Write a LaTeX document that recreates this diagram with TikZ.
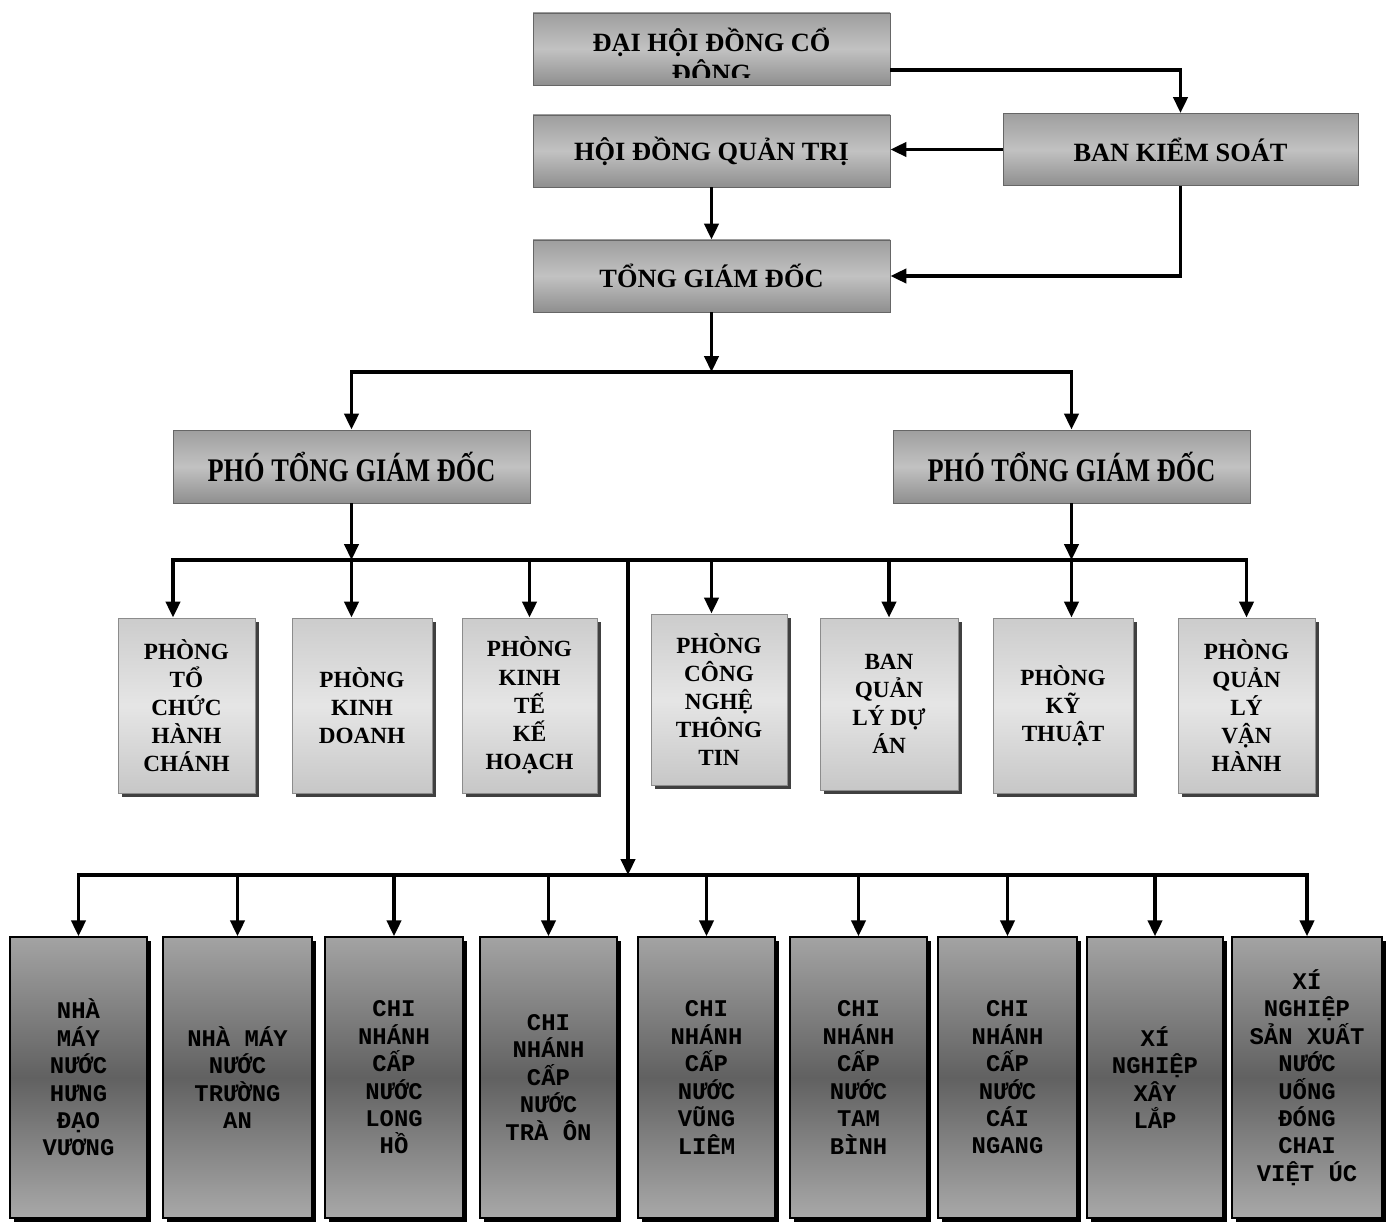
\documentclass[tikz,border=0pt]{standalone}
\usepackage{fontspec}
\setmainfont{Liberation Serif}
\setmonofont{Liberation Mono}
\usepackage{graphicx}
\usetikzlibrary{arrows.meta,shadows}

\begin{document}
\begin{tikzpicture}[line width=.07cm,>={Triangle[length=9pt,width=8pt]},->,
   topbox/.style={draw=black!60,line width=.5pt,top color=black!38,bottom color=black!44,middle color=black!24,
      minimum width=7.14cm,minimum height=1.44cm,font=\bfseries\fontsize{15}{17.6}\selectfont},
   midbox/.style={draw=black!45,line width=.5pt,top color=black!20,bottom color=black!22,middle color=black!10,
      minimum height=3.5cm,align=center,font=\bfseries\fontsize{13.2}{16}\selectfont,
      drop shadow={shadow xshift=.07cm,shadow yshift=-.07cm,fill=black!75,opacity=1}},
   lowbox/.style={draw=black,line width=.8pt,top color=black!36,bottom color=black!34,middle color=black!62,
      minimum height=5.62cm,align=center,font=\ttfamily\bfseries\fontsize{13.6}{15.6}\selectfont,
      drop shadow={shadow xshift=.07cm,shadow yshift=-.07cm,fill=black,opacity=1}}]
   \useasboundingbox (0,0) rectangle (27.78,-24.46);
   \node[topbox] (dhdcd) at (14.23,-0.98) {};
   \begin{scope}
      \clip ([yshift=-.05cm]dhdcd.north west) rectangle ([yshift=.16cm]dhdcd.south east);
      \node[font=\bfseries\fontsize{15}{17.6}\selectfont,align=center] (dhdcdtxt) at (14.23,-1.11) {ĐẠI HỘI ĐỒNG CỔ\\ĐÔNG};
   \end{scope}
   \node[topbox] (hdqt) at (14.23,-3.02) {HỘI ĐỒNG QUẢN TRỊ};
   \node[topbox,minimum width=7.1cm] (bks) at (23.61,-2.99) {BAN KIỂM SOÁT};
   \node[topbox] (tgd) at (14.23,-5.52) {TỔNG GIÁM ĐỐC};
   \node[topbox,minimum height=1.46cm] (pgd1) at (7.03,-9.33) {\scalebox{1}[1.25]{PHÓ TỔNG GIÁM ĐỐC}};
   \node[topbox,minimum height=1.46cm] (pgd2) at (21.43,-9.33) {\scalebox{1}[1.25]{PHÓ TỔNG GIÁM ĐỐC}};

   \node[midbox,minimum width=2.74cm] (p1) at (3.73,-14.11) {PHÒNG\\TỔ\\CHỨC\\HÀNH\\CHÁNH};
   \node[midbox,minimum width=2.8cm] (p2) at (7.24,-14.11) {PHÒNG\\KINH\\DOANH};
   \node[midbox,minimum width=2.7cm] (p3) at (10.59,-14.11) {PHÒNG\\KINH\\TẾ\\KẾ\\HOẠCH};
   \node[midbox,minimum width=2.72cm,minimum height=3.42cm] (p4) at (14.38,-13.99) {PHÒNG\\CÔNG\\NGHỆ\\THÔNG\\TIN};
   \node[midbox,minimum width=2.76cm,minimum height=3.44cm] (p5) at (17.78,-14.08) {BAN\\QUẢN\\LÝ DỰ\\ÁN};
   \node[midbox,minimum width=2.8cm] (p6) at (21.26,-14.11) {PHÒNG\\KỸ\\THUẬT};
   \node[midbox,minimum width=2.74cm] (p7) at (24.93,-14.11) {PHÒNG\\QUẢN\\LÝ\\VẬN\\HÀNH};

   \node[lowbox,minimum width=2.74cm] (q1) at (1.57,-21.55) {NHÀ\\MÁY\\NƯỚC\\HƯNG\\ĐẠO\\VƯƠNG};
   \node[lowbox,minimum width=2.98cm] (q2) at (4.75,-21.55) {NHÀ MÁY\\NƯỚC\\TRƯỜNG\\AN};
   \node[lowbox,minimum width=2.76cm] (q3) at (7.88,-21.55) {CHI\\NHÁNH\\CẤP\\NƯỚC\\LONG\\HỒ};
   \node[lowbox,minimum width=2.74cm] (q4) at (10.97,-21.55) {CHI\\NHÁNH\\CẤP\\NƯỚC\\TRÀ ÔN};
   \node[lowbox,minimum width=2.74cm] (q5) at (14.13,-21.55) {CHI\\NHÁNH\\CẤP\\NƯỚC\\VŨNG\\LIÊM};
   \node[lowbox,minimum width=2.74cm] (q6) at (17.17,-21.55) {CHI\\NHÁNH\\CẤP\\NƯỚC\\TAM\\BÌNH};
   \node[lowbox,minimum width=2.78cm] (q7) at (20.15,-21.55) {CHI\\NHÁNH\\CẤP\\NƯỚC\\CÁI\\NGANG};
   \node[lowbox,minimum width=2.72cm] (q8) at (23.1,-21.55) {XÍ\\NGHIỆP\\XÂY\\LẮP};
   \node[lowbox,minimum width=3cm] (q9) at (26.14,-21.55) {XÍ\\NGHIỆP\\SẢN XUẤT\\NƯỚC\\UỐNG\\ĐÓNG\\CHAI\\VIỆT ÚC};

   \draw ([yshift=-.42cm]dhdcd.east) -| (bks.north);
   \draw (bks.west) -- (hdqt.east |- bks.west);
   \draw (bks.south) |- (tgd.east);
   \draw (hdqt.south) -- (tgd.north);

   \coordinate (b1) at (14.23,-7.44);
   \coordinate (b2) at (12.56,-11.2);
   \coordinate (b3) at (12.56,-17.5);
   \draw (tgd.south) -- (b1);
   \draw[<->] (pgd1.north) |- (b1) -| (pgd2.north);

   \draw (pgd1.south) -- (pgd1 |- b2);
   \draw (pgd2.south) -- (pgd2 |- b2);
   \draw[<->] ([xshift=-.27cm]p1.north) |- (b2) -| (p7.north);
   \draw (pgd1 |- b2) -- (pgd1 |- p2.north);
   \draw (p3.north |- b2) -- (p3.north);
   \draw (tgd |- b2) -- (tgd |- p4.north);
   \draw (p5.north |- b2) -- (p5.north);
   \draw (pgd2 |- b2) -- (pgd2 |- p6.north);

   \draw (b2) -- (b3);
   \draw[<->] (q1.north) |- (b3) -| (q9.north);
   \foreach \i in {2,...,8}
      \draw (q\i.north |- b3) -- (q\i.north);
\end{tikzpicture}
\end{document}
